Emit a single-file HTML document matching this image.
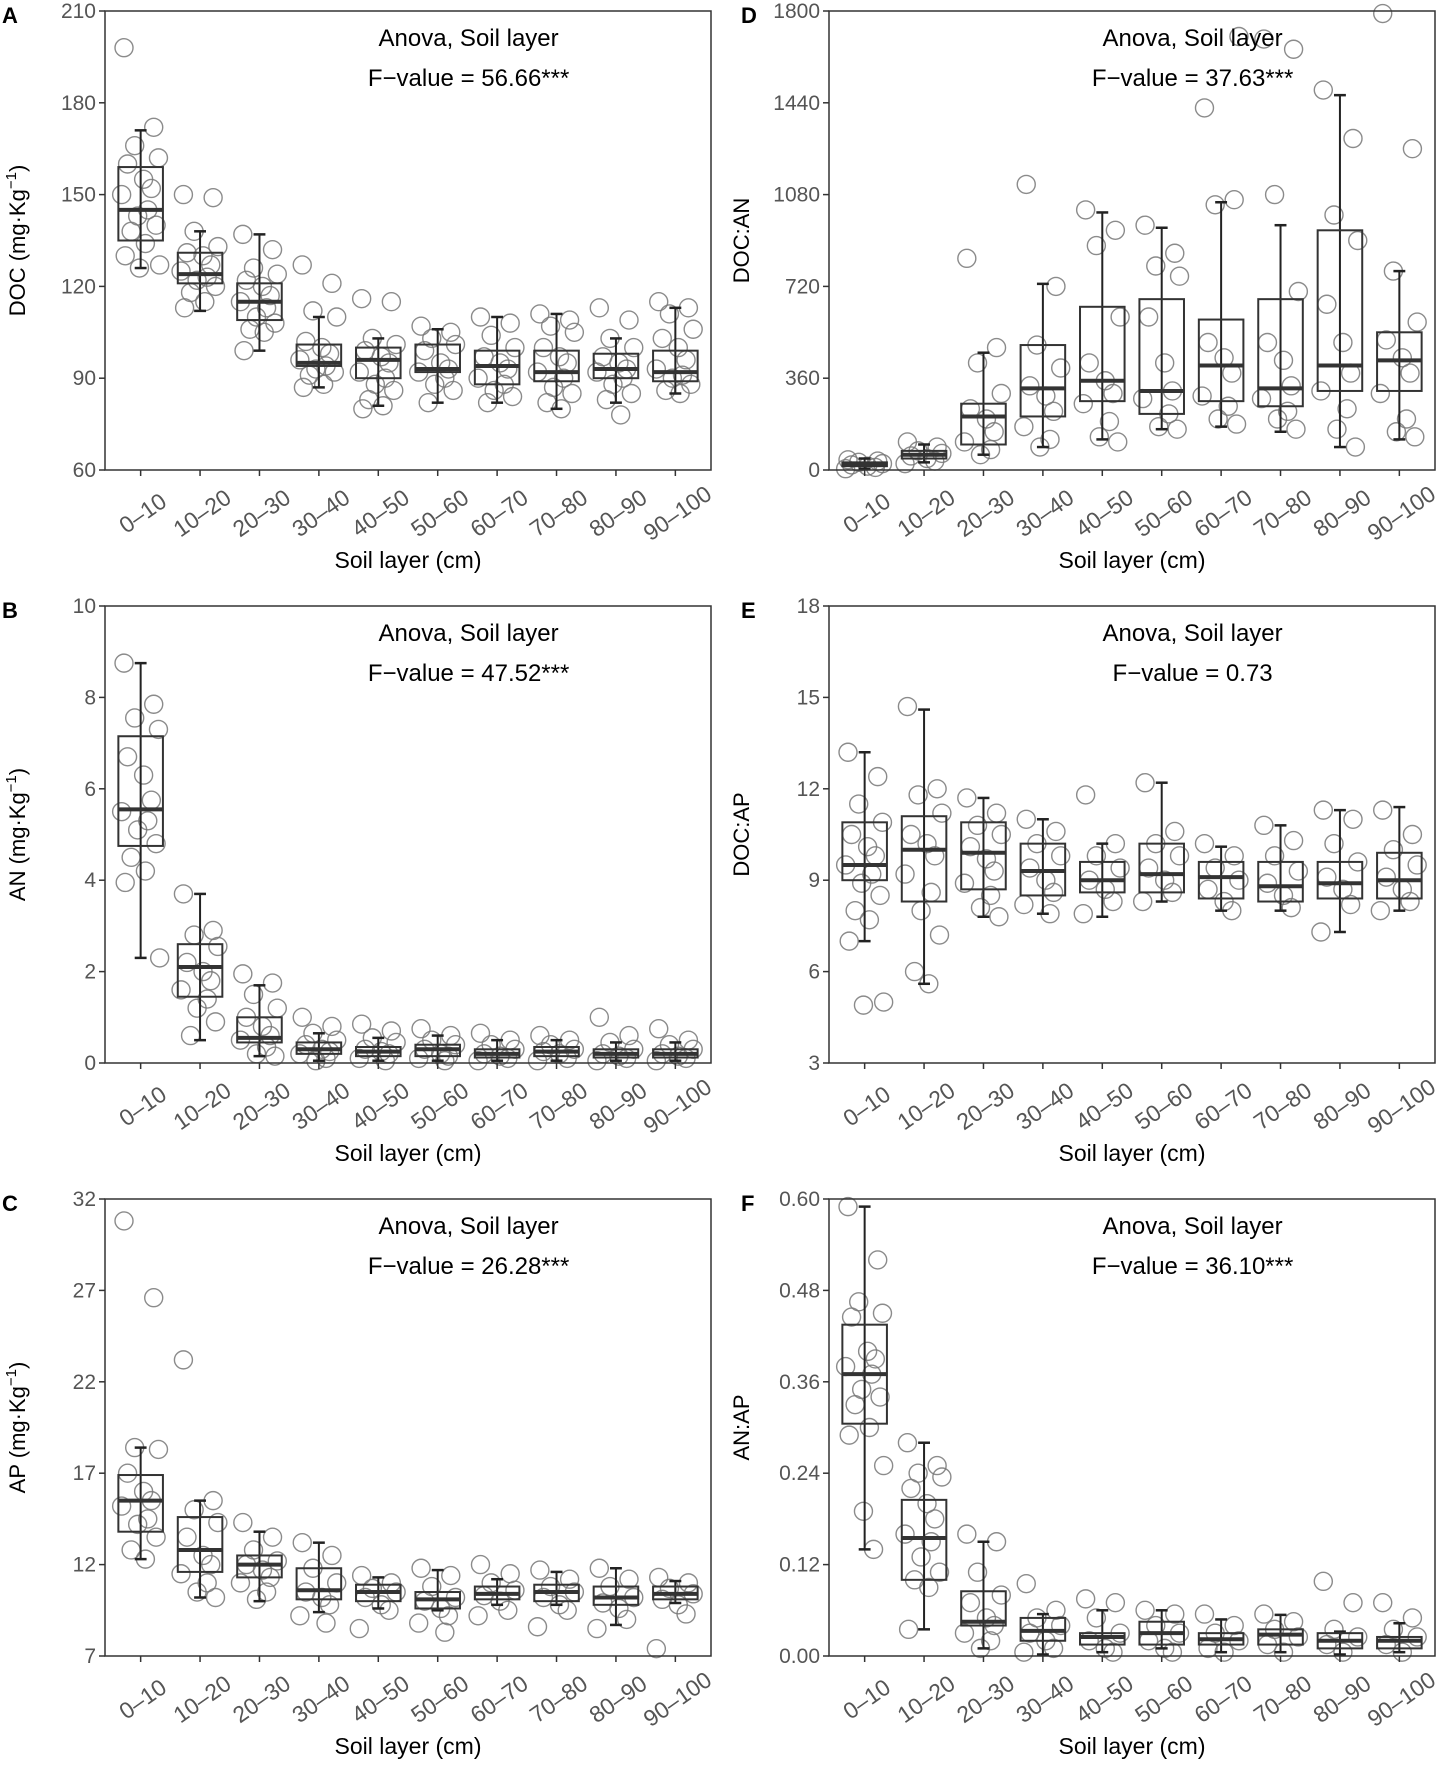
<!DOCTYPE html>
<html><head><meta charset="utf-8">
<style>
html,body{margin:0;padding:0;background:#fff;}
svg{display:block;font-family:"Liberation Sans",Arial,sans-serif;}
</style></head>
<body>
<svg id="fig" xmlns="http://www.w3.org/2000/svg" width="1444" height="1772" viewBox="0 0 1444 1772"></svg>
<script>
const categories = ["0\u201310","10\u201320","20\u201330","30\u201340","40\u201350","50\u201360","60\u201370","70\u201380","80\u201390","90\u2013100"];

// Panel A: DOC
const ticksA = [60,90,120,150,180,210];
const boxesA = [[126,135,145,159,171],[112,121,124,131,138],[99,109,115,121,137],[87,94,95,101,110],[81,90,96,100,103],[82,92,93,101,106],[82,88,94,99,110],[80,89,92,99,111],[82,90,93,98,103],[85,89,92,99,113]];
const pointsA = [[198,172,166,162,160,155,152,150,145,143,140,138,134,130,127,126],[150,149,138,133,131,130,127,125,123,122,120,118,115,113],[137,132,126,124,122,120,117,115,113,110,108,106,105,99],[127,121,112,110,102,100,98,96,94,93,92,91,88,87],[116,115,103,101,99,97,95,92,90,88,86,83,81,80],[107,105,103,101,99,95,93,92,90,88,86,82],[110,108,104,100,97,95,93,90,88,86,84,82],[111,109,107,105,100,97,95,92,90,87,85,82,80],[113,109,103,100,97,95,93,92,90,88,85,83,78],[115,113,111,106,103,100,96,93,91,90,88,86,85]];

// Panel B: AN
const ticksB = [0,2,4,6,8,10];
const boxesB = [[2.3,4.75,5.55,7.15,8.75],[0.5,1.45,2.1,2.6,3.7],[0.15,0.45,0.55,1.0,1.7],[0.05,0.2,0.3,0.45,0.65],[0.05,0.15,0.25,0.35,0.55],[0.05,0.15,0.3,0.4,0.6],[0.05,0.12,0.2,0.3,0.5],[0.05,0.15,0.25,0.35,0.5],[0.05,0.12,0.2,0.3,0.45],[0.05,0.12,0.2,0.3,0.45]];
const pointsB = [[8.75,7.85,7.55,7.3,6.7,6.3,5.75,5.5,5.3,5.1,4.8,4.5,4.2,3.95,2.3],[3.7,2.9,2.8,2.55,2.2,2.0,1.8,1.6,1.4,1.2,0.9,0.6],[1.95,1.75,1.5,1.2,1.0,0.8,0.6,0.5,0.35,0.2,0.15],[1.0,0.8,0.65,0.5,0.4,0.3,0.25,0.2,0.1,0.05],[0.85,0.7,0.55,0.45,0.3,0.25,0.2,0.1,0.05],[0.75,0.6,0.5,0.4,0.3,0.2,0.15,0.1,0.05],[0.65,0.5,0.4,0.3,0.2,0.15,0.1,0.05],[0.6,0.5,0.4,0.3,0.25,0.2,0.1,0.05],[1.0,0.6,0.45,0.3,0.2,0.15,0.1,0.05],[0.75,0.5,0.4,0.3,0.2,0.15,0.1,0.05]];

// Panel C: AP
const ticksC = [7,12,17,22,27,32];
const boxesC = [[12.3,13.8,15.5,16.9,18.4],[10.2,11.6,12.8,14.6,15.5],[10.0,11.3,12.0,12.5,13.8],[9.4,10.1,10.6,11.8,13.2],[9.6,10.0,10.5,10.9,11.3],[9.5,9.6,10.1,10.5,11.7],[9.8,10.1,10.4,10.8,11.2],[9.8,10.0,10.5,10.9,11.6],[8.7,9.8,10.2,10.8,11.8],[9.9,10.1,10.4,10.8,11.1]];
const pointsC = [[30.8,26.6,18.4,18.3,17.0,16.0,15.5,15.2,14.5,14.2,13.5,12.8,12.3],[23.2,15.5,15.0,14.3,13.5,12.5,12.0,11.5,11.0,10.5,10.2],[14.3,13.5,12.8,12.2,12.0,11.7,11.3,11.0,10.5,10.1],[13.2,12.5,11.8,11.0,10.5,10.2,9.8,9.2,8.8],[11.4,11.0,10.7,10.5,10.2,9.8,9.5,8.5],[11.8,11.4,10.8,10.2,10.0,9.6,9.2,8.8,8.3],[12.0,11.5,11.0,10.6,10.3,10.0,9.5,9.2],[11.7,11.2,10.8,10.5,10.2,9.8,9.5,8.6],[11.8,11.2,10.8,10.2,9.9,9.6,9.0,8.5],[11.3,11.0,10.7,10.4,10.1,9.8,9.3,7.4]];

// Panel D: DOC:AN
const ticksD = [0,360,720,1080,1440,1800];
const boxesD = [[5,15,22,30,45],[30,45,60,75,100],[60,100,210,260,460],[90,210,320,490,730],[120,270,350,640,1010],[160,220,310,670,950],[170,270,410,590,1050],[150,250,320,670,960],[90,310,410,940,1470],[120,310,430,540,780]];
const pointsD = [[40,35,30,25,20,15,10,5],[110,90,75,65,55,45,35,25],[830,480,420,300,240,200,150,110,80,60],[1120,720,490,400,330,290,230,170,120,90],[1020,940,880,600,420,350,300,260,190,130,110],[960,850,800,760,600,420,310,280,220,170,160],[1420,1060,1040,1700,500,440,380,290,250,200,180],[1690,1650,1080,700,500,430,330,280,230,200,160],[1490,1300,1000,900,650,500,380,310,240,160,90],[1790,1260,780,580,510,440,380,300,200,150,130]];

// Panel E: DOC:AP
const ticksE = [3,6,9,12,15,18];
const boxesE = [[7.0,9.0,9.5,10.9,13.2],[5.6,8.3,10.0,11.1,14.6],[7.8,8.7,9.9,10.9,11.7],[7.9,8.5,9.3,10.2,11.0],[7.8,8.6,9.0,9.6,10.2],[8.3,8.6,9.2,10.2,12.2],[8.0,8.4,9.1,9.6,10.1],[8.0,8.3,8.8,9.6,10.8],[7.3,8.4,8.9,9.6,11.3],[8.0,8.4,9.0,9.9,11.4]];
const pointsE = [[13.2,12.4,11.5,10.9,10.5,10.1,9.8,9.5,9.2,8.9,8.5,8.0,7.7,7.0,5.0,4.9],[14.7,12.0,11.8,11.2,10.5,10.2,9.8,9.2,8.6,8.0,7.2,6.0,5.6],[11.7,11.2,10.8,10.5,10.1,9.7,9.3,8.9,8.5,8.1,7.8],[11.0,10.6,10.2,9.8,9.4,9.0,8.6,8.2,7.9],[11.8,10.2,9.8,9.4,9.0,8.7,8.3,7.9],[12.2,10.6,10.2,9.8,9.4,9.0,8.6,8.3],[10.2,9.8,9.4,9.0,8.7,8.3,8.0],[10.8,10.3,9.8,9.3,8.9,8.5,8.1],[11.3,11.0,10.2,9.6,9.1,8.7,8.2,7.3],[11.3,10.5,10.0,9.5,9.1,8.7,8.3,8.0]];

// Panel F: AN:AP
const ticksF = [0,0.12,0.24,0.36,0.48,0.60];
const boxesF = [[0.14,0.305,0.37,0.435,0.59],[0.035,0.10,0.155,0.205,0.28],[0.01,0.04,0.045,0.085,0.15],[0.002,0.02,0.033,0.05,0.055],[0.005,0.015,0.025,0.03,0.06],[0.01,0.015,0.03,0.045,0.06],[0.005,0.015,0.022,0.03,0.048],[0.005,0.015,0.028,0.035,0.054],[0.002,0.01,0.02,0.03,0.032],[0.005,0.01,0.02,0.025,0.043]];
const pointsF = [[0.59,0.52,0.465,0.45,0.445,0.40,0.39,0.38,0.37,0.35,0.34,0.33,0.30,0.29,0.25,0.19,0.14],[0.28,0.25,0.24,0.235,0.22,0.20,0.18,0.16,0.15,0.13,0.11,0.10,0.09,0.035],[0.16,0.15,0.11,0.08,0.07,0.05,0.04,0.03,0.02,0.01],[0.095,0.06,0.05,0.04,0.03,0.02,0.01,0.005],[0.075,0.07,0.05,0.03,0.02,0.01,0.005],[0.06,0.055,0.04,0.03,0.02,0.01,0.005],[0.055,0.04,0.03,0.02,0.01,0.005],[0.055,0.045,0.035,0.025,0.015,0.005],[0.098,0.07,0.035,0.025,0.015,0.005],[0.07,0.05,0.035,0.025,0.015,0.005]];

const tickFmtF = ["0.00","0.12","0.24","0.36","0.48","0.60"];

const NS = "http://www.w3.org/2000/svg";
const svg = document.getElementById("fig");
function mk(tag, attrs, parent, text){
  const e = document.createElementNS(NS, tag);
  for (const k in attrs) e.setAttribute(k, attrs[k]);
  if (text !== undefined) e.textContent = text;
  (parent || svg).appendChild(e);
  return e;
}
const jit = [-0.28,0.22,-0.1,0.3,-0.22,0.05,0.18,-0.32,0.12,-0.05,0.26,-0.16,0.08,-0.26,0.32,-0.02,0.15];

function panel(cfg){
  const {key,letter,letterX,x0,x1,y0,y1,ticks,tickLabels,boxes,points,ytitle,f} = cfg;
  const g = mk("g", {});
  
  
  const ymin = ticks[0], ymax = ticks[ticks.length-1];
  const sy = v => y1 - (v - ymin) / (ymax - ymin) * (y1 - y0);
  const unit = (x1 - x0) / 10.2;
  const sx = i => x0 + (0.6 + i) * unit;
  const lt = mk("text", {x:letterX, y:y0+12, "font-size":22, "font-weight":"bold", fill:"#000"}, g, letter);
  
  
  ticks.forEach((t,i)=>{
    const y = sy(t);
    mk("line",{x1:x0-6,x2:x0,y1:y,y2:y,stroke:"#333","stroke-width":1.5},g);
    const tx = mk("text",{x:x0-9,y:y+7,"font-size":21,"text-anchor":"end",fill:"#555"},g,tickLabels?tickLabels[i]:String(t));
    
    
  });
  points.forEach((arr,i)=>{
    arr.forEach((v,j)=>{
      const c = mk("circle",{cx:sx(i)+jit[j%jit.length]*unit, cy:sy(v), r:9, fill:"none", stroke:"#777","stroke-width":1.4,"stroke-opacity":0.85},g);
      
      
    });
  });
  boxes.forEach((b,i)=>{
    const cx = sx(i), hw = unit*0.375, cw = unit*0.1;
    const bg = mk("g",{},g);
    
    
    mk("line",{x1:cx,x2:cx,y1:sy(b[0]),y2:sy(b[4]),stroke:"#222","stroke-width":2},bg);
    mk("line",{x1:cx-cw,x2:cx+cw,y1:sy(b[0]),y2:sy(b[0]),stroke:"#222","stroke-width":2.5},bg);
    mk("line",{x1:cx-cw,x2:cx+cw,y1:sy(b[4]),y2:sy(b[4]),stroke:"#222","stroke-width":2.5},bg);
    mk("rect",{x:cx-hw,y:sy(b[3]),width:hw*2,height:Math.max(1,sy(b[1])-sy(b[3])),fill:"none",stroke:"#333","stroke-width":2},bg);
    mk("line",{x1:cx-hw,x2:cx+hw,y1:sy(b[2]),y2:sy(b[2]),stroke:"#333","stroke-width":4},bg);
  });
  const fr = mk("rect",{x:x0,y:y0,width:x1-x0,height:y1-y0,fill:"none",stroke:"#333","stroke-width":1.5},g);
  
  
  categories.forEach((c,i)=>{
    const x = sx(i);
    mk("line",{x1:x,x2:x,y1:y1,y2:y1+6,stroke:"#333","stroke-width":1.5},g);
    const cxl = x+2, cyl = y1+43;
    const tx = mk("text",{x:0,y:8,"font-size":23,"text-anchor":"middle",fill:"#555",transform:`translate(${cxl} ${cyl}) rotate(-35)`},g,c);
    
    
  });
  const xt = mk("text",{x:(x0+x1)/2,y:y1+98,"font-size":23,"text-anchor":"middle",fill:"#000"},g,"Soil layer (cm)");
  
  
  const yt = mk("text",{x:0,y:0,"font-size":22,"text-anchor":"middle",fill:"#000",transform:`translate(${x0-80} ${(y0+y1)/2}) rotate(-90)`},g);
  
  
  if (ytitle.unit){
    yt.appendChild(document.createTextNode(ytitle.text + " (mg\u00b7Kg"));
    mk("tspan",{dy:-9,"font-size":15},yt,"\u22121");
    mk("tspan",{dy:9},yt,")");
  } else yt.textContent = ytitle.text;
  const ax = x0 + (x1-x0)*0.6;
  const a1 = mk("text",{x:ax,y:y0+35,"font-size":24,"text-anchor":"middle",fill:"#000"},g,"Anova, Soil layer");
  
  
  const a2 = mk("text",{x:ax,y:y0+75,"font-size":24,"text-anchor":"middle",fill:"#000"},g,f);
  
  
}
const L0=105,L1=711,R0=829,R1=1435;
const r1=[11,470], r2=[606,1063], r3=[1199,1656];
panel({key:"doc",letter:"A",letterX:2,x0:L0,x1:L1,y0:r1[0],y1:r1[1],ticks:ticksA,boxes:boxesA,points:pointsA,ytitle:{text:"DOC",unit:true},f:"F\u2212value = 56.66***"});
panel({key:"an",letter:"B",letterX:2,x0:L0,x1:L1,y0:r2[0],y1:r2[1],ticks:ticksB,boxes:boxesB,points:pointsB,ytitle:{text:"AN",unit:true},f:"F\u2212value = 47.52***"});
panel({key:"ap",letter:"C",letterX:2,x0:L0,x1:L1,y0:r3[0],y1:r3[1],ticks:ticksC,boxes:boxesC,points:pointsC,ytitle:{text:"AP",unit:true},f:"F\u2212value = 26.28***"});
panel({key:"doc-an",letter:"D",letterX:741,x0:R0,x1:R1,y0:r1[0],y1:r1[1],ticks:ticksD,boxes:boxesD,points:pointsD,ytitle:{text:"DOC:AN"},f:"F\u2212value = 37.63***"});
panel({key:"doc-ap",letter:"E",letterX:741,x0:R0,x1:R1,y0:r2[0],y1:r2[1],ticks:ticksE,boxes:boxesE,points:pointsE,ytitle:{text:"DOC:AP"},f:"F\u2212value = 0.73"});
panel({key:"an-ap",letter:"F",letterX:741,x0:R0,x1:R1,y0:r3[0],y1:r3[1],ticks:ticksF,tickLabels:tickFmtF,boxes:boxesF,points:pointsF,ytitle:{text:"AN:AP"},f:"F\u2212value = 36.10***"});
</script>
</body></html>
